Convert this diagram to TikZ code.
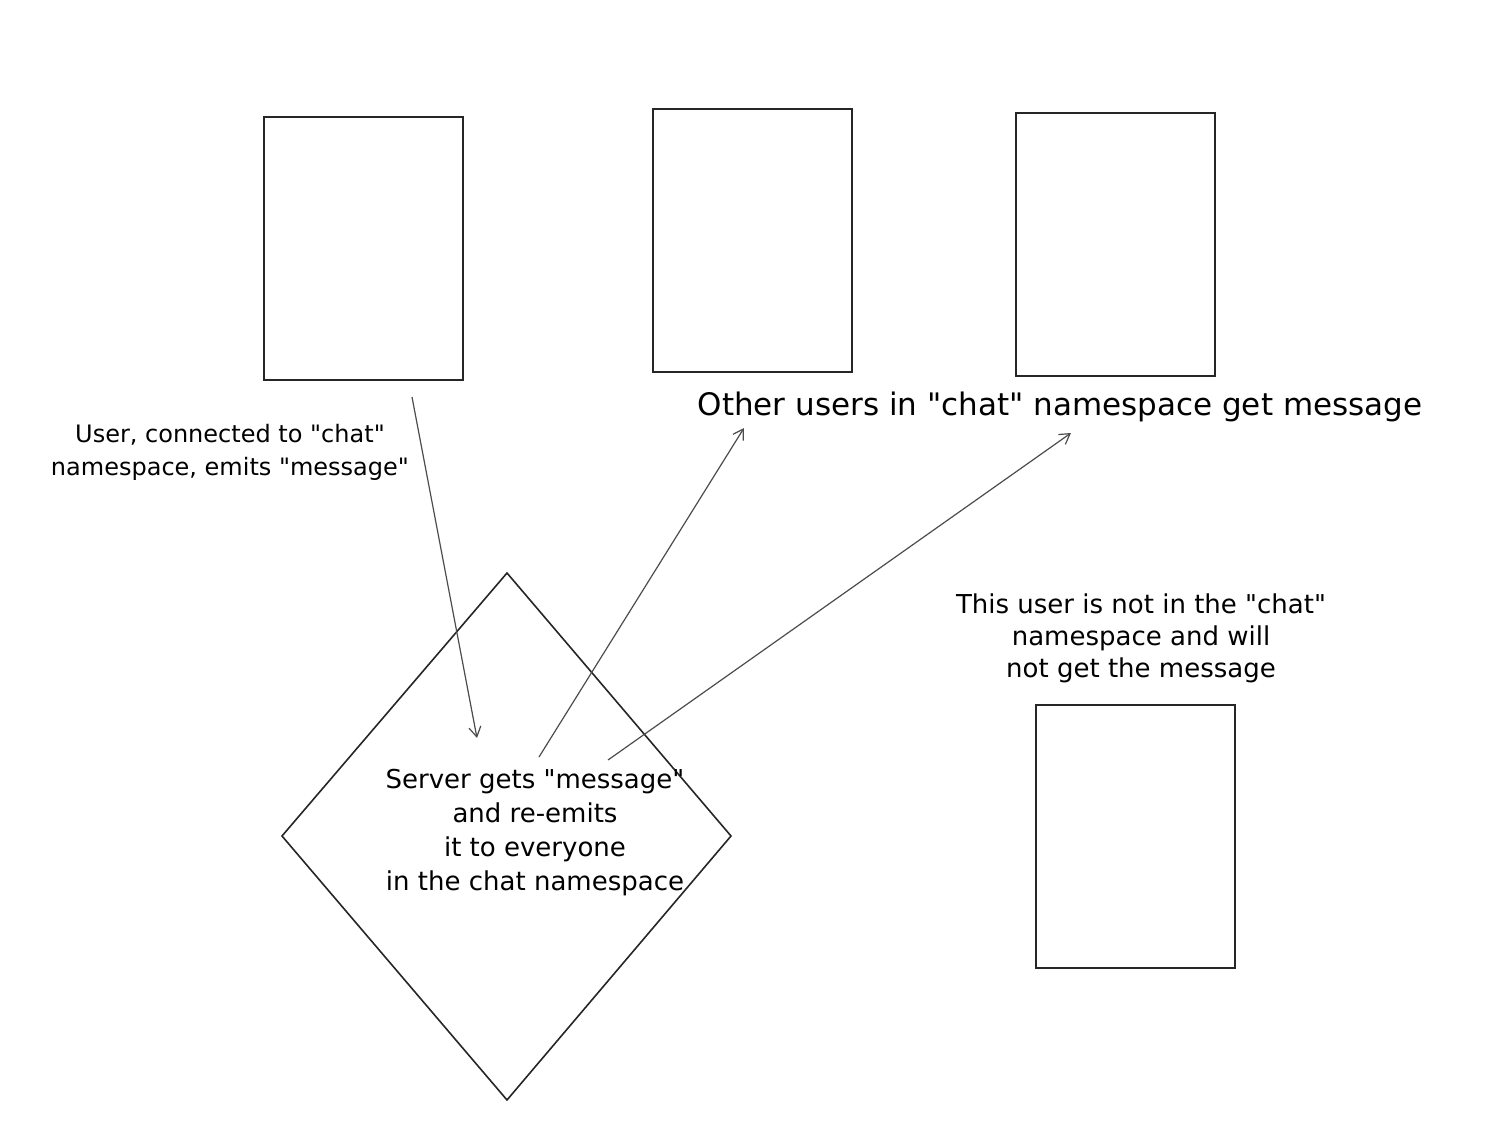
\documentclass[tikz,border=0pt]{standalone}
\usepackage{fontspec}
\setmainfont{DejaVu Sans}[Ligatures=TeXOff]
\usetikzlibrary{arrows.meta}
\begin{document}
\begin{tikzpicture}[x=0.5pt,y=-0.5pt,
  box/.style={draw=black!85,line width=0.8pt,inner sep=0,minimum width=99.5pt,minimum height=131.5pt},
  note/.style={align=center,font=\fontsize{12}{16.5}\selectfont,inner sep=0pt},
  link/.style={draw=black!70,line width=0.6pt,-{Straight Barb[length=5pt,width=6pt]}}]
\useasboundingbox (0,0) rectangle (1500,1139);
\node[box] (u1) at (363.5,248.5) {};
\node[box] (u2) at (752.5,240.5) {};
\node[box] (u3) at (1115.5,244.5) {};
\node[box] (u4) at (1135.5,836.5) {};
\draw[draw=black!85,line width=0.8pt] (507,573) coordinate (dt) -- (731,836) coordinate (dr) -- (507,1100) coordinate (db) -- (282,836) coordinate (dl) -- cycle;
\node[note] (lab1) at (230,452) {User, connected to "chat"\\namespace, emits "message"};
\node[note,font=\fontsize{15.5}{18}\selectfont] (title) at (1060,407) {Other users in "chat" namespace get message};
\node[note,font=\fontsize{13}{16}\selectfont] (lab4) at (1141,638) {This user is not in the "chat"\\namespace and will\\not get the message};
\node[note,font=\fontsize{13}{17}\selectfont] (server) at (535,833) {Server gets "message"\\and re-emits\\it to everyone\\in the chat namespace};
\coordinate (s1) at (412,397);
\coordinate (e1) at (477,738);
\coordinate (s2) at (539,757);
\coordinate (e2) at (744,428);
\coordinate (s3) at (608,760);
\coordinate (e3) at (1071,433);
\draw[link] (s1) -- (e1);
\draw[link] (s2) -- (e2);
\draw[link] (s3) -- (e3);
\end{tikzpicture}
\end{document}
